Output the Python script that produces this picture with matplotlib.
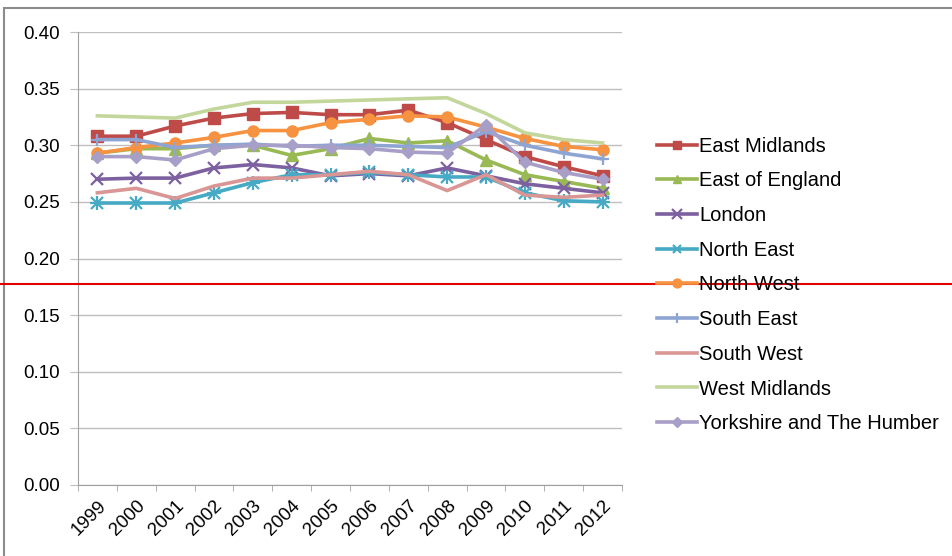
import matplotlib.pyplot as plt
from matplotlib.lines import Line2D
from matplotlib.patches import Rectangle

plt.rcParams['font.family'] = ['Liberation Sans', 'DejaVu Sans']

years = ['1999', '2000', '2001', '2002', '2003', '2004', '2005',
         '2006', '2007', '2008', '2009', '2010', '2011', '2012']

east_midlands = [0.308, 0.308, 0.317, 0.324, 0.328, 0.329, 0.327,
                 0.327, 0.331, 0.320, 0.305, 0.290, 0.281, 0.273]
east_of_england = [0.293, 0.297, 0.297, 0.300, 0.300, 0.291, 0.297,
                   0.306, 0.302, 0.304, 0.287, 0.274, 0.268, 0.262]
london = [0.270, 0.271, 0.271, 0.280, 0.283, 0.280, 0.273,
          0.275, 0.273, 0.280, 0.273, 0.266, 0.262, 0.258]
north_east = [0.249, 0.249, 0.249, 0.258, 0.267, 0.274, 0.274,
              0.276, 0.274, 0.272, 0.272, 0.258, 0.251, 0.250]
north_west = [0.293, 0.298, 0.302, 0.307, 0.313, 0.313, 0.320,
              0.323, 0.326, 0.325, 0.316, 0.306, 0.299, 0.296]
south_east = [0.305, 0.305, 0.298, 0.300, 0.301, 0.299, 0.300,
              0.300, 0.299, 0.298, 0.312, 0.300, 0.293, 0.288]
south_west = [0.258, 0.262, 0.253, 0.264, 0.271, 0.271, 0.274,
              0.277, 0.274, 0.260, 0.274, 0.256, 0.254, 0.256]
west_midlands = [0.326, 0.325, 0.324, 0.332, 0.338, 0.338, 0.339,
                 0.340, 0.341, 0.342, 0.328, 0.311, 0.305, 0.302]
yorkshire = [0.290, 0.290, 0.287, 0.297, 0.300, 0.300, 0.298,
             0.297, 0.294, 0.293, 0.318, 0.285, 0.276, 0.270]

# (name, values, colour, marker)
series = [
    ('East Midlands', east_midlands, '#BE4B48', 's'),
    ('East of England', east_of_england, '#98B954', '^'),
    ('London', london, '#7D60A0', 'x'),
    ('North East', north_east, '#46AAC5', '*'),
    ('North West', north_west, '#F69240', 'o'),
    ('South East', south_east, '#8EA5D4', '+'),
    ('South West', south_west, '#D99694', None),
    ('West Midlands', west_midlands, '#C3D69B', None),
    ('Yorkshire and The Humber', yorkshire, '#A89FC8', 'D'),
]

fig = plt.figure(figsize=(9.52, 5.56), dpi=100)
ax = fig.add_axes([0.0819, 0.1277, 0.5715, 0.8147])

x = list(range(len(years)))
for name, vals, col, mk in series:
    kw = dict(color=col, lw=2.6, label=name)
    if mk == '*':
        ax.plot(x, vals, marker='x', ms=8, mew=1.6, **kw)
        ax.plot(x, vals, marker='+', ms=10, mew=1.6, color=col, lw=0)
    elif mk in ('x', '+'):
        ax.plot(x, vals, marker=mk, ms=9, mew=1.6, **kw)
    elif mk is not None:
        ax.plot(x, vals, marker=mk, ms=8 if mk != 'D' else 6, mec=col, **kw)
    else:
        ax.plot(x, vals, **kw)

ax.set_xlim(-0.5, len(years) - 0.5)
ax.set_ylim(0, 0.40)
ax.set_yticks([i * 0.05 for i in range(9)])
ax.set_yticklabels(['%.2f' % (i * 0.05) for i in range(9)], fontsize=13.5)
ax.yaxis.grid(True, color='#BFBFBF', lw=1)
ax.set_axisbelow(True)
ax.tick_params(axis='y', length=6, color='#BFBFBF', pad=7)

ax.set_xticks(x)
ax.set_xticklabels(years, rotation=45, ha='right', rotation_mode='anchor',
                   fontsize=13.5)
ax.set_xticks([i - 0.5 for i in range(len(years) + 1)], minor=True)
ax.tick_params(axis='x', which='major', length=0, pad=9)
ax.tick_params(axis='x', which='minor', length=4, color='#A0A0A0')

for s in ('top', 'right'):
    ax.spines[s].set_visible(False)
for s in ('left', 'bottom'):
    ax.spines[s].set_color('#A0A0A0')

# legend to the right of the plot
handles, labels = ax.get_legend_handles_labels()
keep = [i for i, l in enumerate(labels) if not l.startswith('_')]
leg = fig.legend([handles[i] for i in keep], [labels[i] for i in keep],
                 loc='upper left', bbox_to_anchor=(0.671, 0.787),
                 frameon=False, fontsize=14.5, handlelength=2.0,
                 handletextpad=0.1, labelspacing=0.78, markerscale=0.8)

# chart frame
fig.add_artist(Rectangle((0.004, -0.1), 1.1, 1.086, transform=fig.transFigure,
                         fill=False, ec='#8C8C8C', lw=1.5))

# red horizontal marker line across the figure
fig.add_artist(Line2D([0, 1], [1 - 284 / 556] * 2, transform=fig.transFigure,
                      color='#E00000', lw=1.5))

fig.savefig('out.png', dpi=100)
